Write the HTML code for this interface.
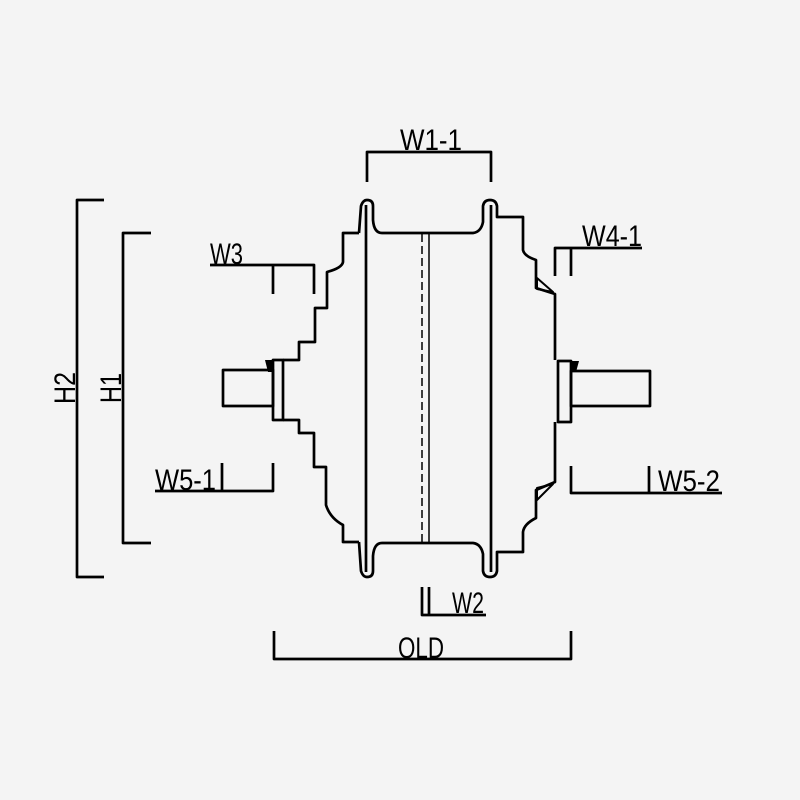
<!DOCTYPE html>
<html><head><meta charset="utf-8"><style>
html,body{margin:0;padding:0;background:#f4f4f4;}
svg{display:block;}
text{font-family:"Liberation Sans",sans-serif;font-size:30px;fill:#000;}
</style></head><body>
<svg width="800" height="800" viewBox="0 0 800 800" xmlns="http://www.w3.org/2000/svg">
<rect width="800" height="800" fill="#f4f4f4"/>
<g fill="none" stroke="#000" stroke-width="2.7" stroke-linejoin="round">
<path d="M359,233 L343,233 L343,262 Q342,268 327,272 L327,308 L315,308 L315,342 L299,342 L299,360 L283,360"/>
<path d="M283,420 L299,420 L299,433 L314,433 L314,467 L326,467 L326,505 Q330,518 343,525 L343,542 L359,542"/>
<path d="M359,233 L361,206 Q363,200 367,200 Q373,200 373,206 L373,220 Q374,233 382,233 L473,233 Q481,232 483,222 L483,206 Q484,200 490,200 Q496,200 497,206 L497,217 L523,217 L523,250 Q524,256 536,260 L536,288 L555,294 L555,360"/>
<path d="M359,542 L361,571 Q363,577 367,577 Q373,577 373,571 L373,556 Q374,543 382,543 L473,543 Q481,544 483,554 L483,571 Q484,577 490,577 Q496,577 497,571 L497,552 L523,552 L523,532 Q524,524 536,518 L536,490 L555,482 L555,422"/>
<line x1="366" y1="205" x2="366" y2="572"/>
<line x1="491" y1="205" x2="491" y2="572"/>
<rect x="273" y="360" width="10" height="60"/>
<rect x="223" y="370" width="50" height="36"/>
<rect x="558" y="361" width="13" height="61"/>
<rect x="571" y="371" width="79" height="35"/>
<path d="M367,182 L367,152 L491,152 L491,182"/>
<path d="M210,265 L314,265 L314,294 M273,265 L273,294"/>
<path d="M555,276 L555,248 L642,248 M571,248 L571,276"/>
<path d="M155,491 L273,491 L273,463 M222,491 L222,463"/>
<path d="M571,466 L571,493 L722,493 M649,493 L649,466"/>
<path d="M104,200 L77,200 L77,577 L104,577"/>
<path d="M151,233 L123,233 L123,543 L151,543"/>
<path d="M422,587 L422,615 L486,615 M429,615 L429,587"/>
<path d="M274,631 L274,659 L571,659 L571,631"/>
<path d="M537,278 L537,289 L553,292 Z" stroke-width="2"/>
<path d="M537,488 L537,500 L553,484 Z" stroke-width="2"/>
</g>
<g stroke="#000" stroke-width="1.5">
<line x1="429" y1="234" x2="429" y2="542"/>
<line x1="422" y1="234" x2="422" y2="542" stroke-dasharray="8,4"/>
</g>
<g fill="#000">
<path d="M265,360 L273,360 L273,372 L268,372 Z"/>
<path d="M571,361 L579,361 L576,372 L571,372 Z"/>
</g>
<text x="400" y="150" textLength="62" lengthAdjust="spacingAndGlyphs">W1-1</text>
<text x="210" y="264" textLength="33" lengthAdjust="spacingAndGlyphs">W3</text>
<text x="582" y="246" textLength="60" lengthAdjust="spacingAndGlyphs">W4-1</text>
<text x="155" y="490" textLength="61" lengthAdjust="spacingAndGlyphs">W5-1</text>
<text x="658" y="491" textLength="62" lengthAdjust="spacingAndGlyphs">W5-2</text>
<text x="452" y="613" textLength="32" lengthAdjust="spacingAndGlyphs">W2</text>
<text x="398" y="658" textLength="46" lengthAdjust="spacingAndGlyphs">OLD</text>
<text transform="translate(75,388) rotate(-90)" text-anchor="middle" textLength="32" lengthAdjust="spacingAndGlyphs">H2</text>
<text transform="translate(121,388) rotate(-90)" text-anchor="middle" textLength="30" lengthAdjust="spacingAndGlyphs">H1</text>
</svg>
</body></html>
